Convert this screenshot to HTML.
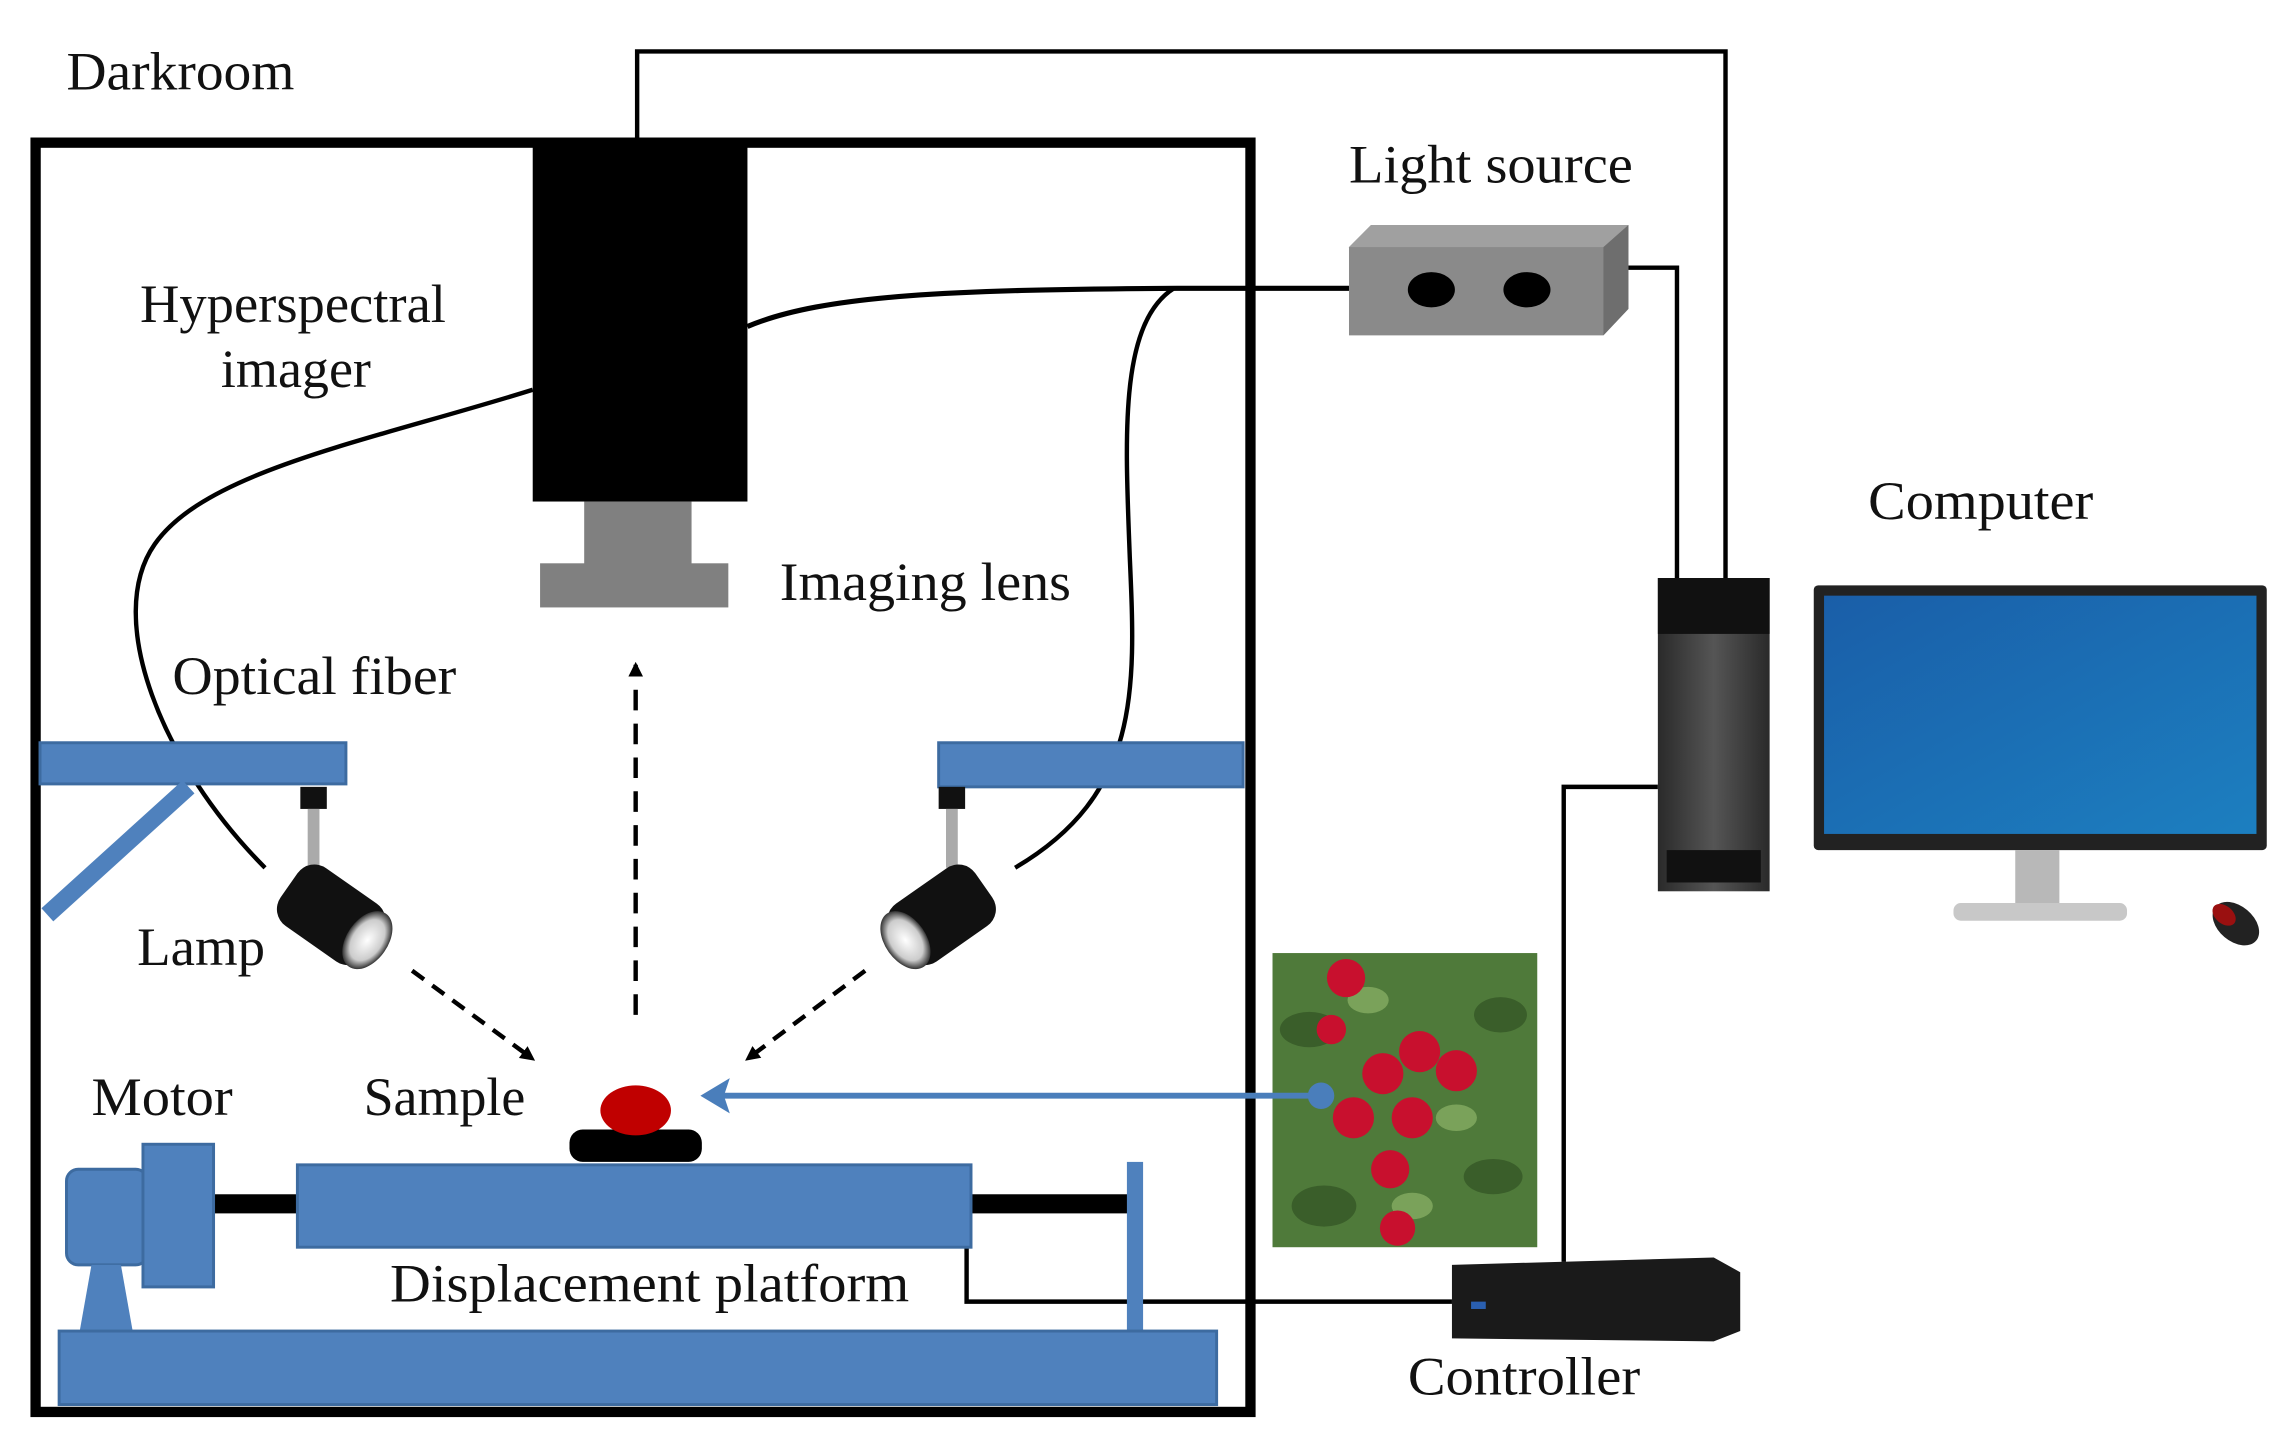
<!DOCTYPE html>
<html><head><meta charset="utf-8"><style>
html,body{margin:0;padding:0;background:#fff;}
svg{display:block;}
text{font-family:"Liberation Serif",serif;font-size:37px;fill:#111;}
</style></head><body>
<svg width="2295" height="1434" viewBox="0 0 1560 975" xmlns="http://www.w3.org/2000/svg">
<defs>
<marker id="ah" markerWidth="10" markerHeight="10" refX="8" refY="5" orient="auto" markerUnits="userSpaceOnUse"><path d="M0,0 L10,5 L0,10 z" fill="#000"/></marker>
<linearGradient id="tow" x1="0" x2="1"><stop offset="0" stop-color="#2a2a2a"/><stop offset="0.5" stop-color="#555"/><stop offset="1" stop-color="#2a2a2a"/></linearGradient>
<linearGradient id="scr" x1="0" y1="0" x2="1" y2="1"><stop offset="0" stop-color="#1a5ea8"/><stop offset="1" stop-color="#1c7fc0"/></linearGradient>
<radialGradient id="lens" cx="0.5" cy="0.5" r="0.5"><stop offset="0" stop-color="#fff"/><stop offset="0.7" stop-color="#ccc"/><stop offset="1" stop-color="#333"/></radialGradient>
</defs>

<polyline points="433,97 433,35 1173,35 1173,393" fill="none" stroke="#000" stroke-width="3"/>
<polyline points="1105,182 1140,182 1140,393" fill="none" stroke="#000" stroke-width="3"/>
<polyline points="1127,535 1063,535 1063,858" fill="none" stroke="#000" stroke-width="3"/>
<polyline points="657,848 657,885 987,885" fill="none" stroke="#000" stroke-width="3"/>

<rect x="24" y="97" width="826" height="863" fill="none" stroke="#000" stroke-width="7"/>

<rect x="362" y="97" width="146" height="244" fill="#000"/>
<rect x="397" y="341" width="73" height="44" fill="#808080"/>
<rect x="367" y="383" width="128" height="30" fill="#808080"/>

<path d="M508,222 C560,200 650,197 800,196 L917,196" fill="none" stroke="#000" stroke-width="3.5"/>
<path d="M362,265 C250,300 140,320 105,370 C70,420 110,520 180,590" fill="none" stroke="#000" stroke-width="3"/>
<path d="M798,196 C760,220 765,300 768,380 C772,470 775,540 690,590" fill="none" stroke="#000" stroke-width="3"/>

<polygon points="917,168 932,153 1107,153 1107,210 1090,228 917,228" fill="#8a8a8a"/>
<polygon points="917,168 932,153 1107,153 1090,168" fill="#a0a0a0"/>
<polygon points="1090,168 1107,153 1107,210 1090,228" fill="#6e6e6e"/>
<ellipse cx="973" cy="197" rx="16" ry="12" fill="#000"/>
<ellipse cx="1038" cy="197" rx="16" ry="12" fill="#000"/>

<rect x="1127" y="393" width="76" height="213" fill="url(#tow)"/>
<rect x="1127" y="393" width="76" height="38" fill="#111"/>
<rect x="1133" y="578" width="64" height="22" fill="#111"/>
<rect x="1233" y="398" width="308" height="180" rx="3" fill="#222"/>
<rect x="1240" y="405" width="294" height="162" fill="url(#scr)"/>
<rect x="1370" y="578" width="30" height="38" fill="#b8b8b8"/>
<rect x="1328" y="614" width="118" height="12" rx="5" fill="#c8c8c8"/>
<ellipse cx="1520" cy="628" rx="12" ry="18" transform="rotate(-50 1520 628)" fill="#222"/>
<ellipse cx="1512" cy="622" rx="6" ry="9" transform="rotate(-50 1512 622)" fill="#9a1010"/>

<rect x="865" y="648" width="180" height="200" fill="#4f7a3a"/>
<g fill="#3a5e2a"><ellipse cx="890" cy="700" rx="20" ry="12"/><ellipse cx="1020" cy="690" rx="18" ry="12"/><ellipse cx="900" cy="820" rx="22" ry="14"/><ellipse cx="1015" cy="800" rx="20" ry="12"/></g>
<g fill="#7aa25a"><ellipse cx="930" cy="680" rx="14" ry="9"/><ellipse cx="990" cy="760" rx="14" ry="9"/><ellipse cx="960" cy="820" rx="14" ry="9"/></g>
<g fill="#c8102e"><circle cx="915" cy="665" r="13"/><circle cx="965" cy="715" r="14"/><circle cx="940" cy="730" r="14"/><circle cx="990" cy="728" r="14"/><circle cx="920" cy="760" r="14"/><circle cx="960" cy="760" r="14"/><circle cx="945" cy="795" r="13"/><circle cx="950" cy="835" r="12"/><circle cx="905" cy="700" r="10"/></g>

<polygon points="987,860 1165,855 1183,865 1183,905 1165,912 987,910" fill="#1a1a1a"/>
<rect x="1000" y="885" width="10" height="5" fill="#2a5fb0"/>

<line x1="898" y1="745" x2="490" y2="745" stroke="#4a7ebb" stroke-width="4"/>
<polygon points="476,745 496,733 492,745 496,757" fill="#4a7ebb"/>
<circle cx="898" cy="745" r="9" fill="#4a7ebb"/>

<rect x="27" y="505" width="208" height="28" fill="#4f81bd" stroke="#3d6ba0" stroke-width="2"/>
<line x1="128" y1="535" x2="32" y2="622" stroke="#4f81bd" stroke-width="12"/>
<rect x="638" y="505" width="207" height="30" fill="#4f81bd" stroke="#3d6ba0" stroke-width="2"/>

<rect x="204" y="535" width="18" height="15" fill="#111"/>
<rect x="209" y="550" width="8" height="40" fill="#aaa"/>
<g transform="rotate(35 225 622)"><rect x="190" y="598" width="70" height="48" rx="14" fill="#111"/><ellipse cx="255" cy="622" rx="14" ry="22" fill="url(#lens)"/></g>
<rect x="638" y="535" width="18" height="15" fill="#111"/>
<rect x="643" y="550" width="8" height="40" fill="#aaa"/>
<g transform="rotate(-35 640 622)"><rect x="605" y="598" width="70" height="48" rx="14" fill="#111"/><ellipse cx="610" cy="622" rx="14" ry="22" fill="url(#lens)"/></g>

<line x1="432" y1="690" x2="432" y2="452" stroke="#000" stroke-width="3" stroke-dasharray="14,9" marker-end="url(#ah)"/>
<line x1="280" y1="660" x2="362" y2="720" stroke="#000" stroke-width="3" stroke-dasharray="10,7" marker-end="url(#ah)"/>
<line x1="588" y1="660" x2="508" y2="720" stroke="#000" stroke-width="3" stroke-dasharray="10,7" marker-end="url(#ah)"/>

<rect x="387" y="768" width="90" height="22" rx="9" fill="#000"/>
<ellipse cx="432" cy="755" rx="24" ry="17" fill="#c00000"/>

<rect x="145" y="812" width="60" height="13" fill="#000"/>
<rect x="658" y="812" width="110" height="13" fill="#000"/>
<rect x="202" y="792" width="458" height="56" fill="#4f81bd" stroke="#3d6ba0" stroke-width="2"/>
<rect x="766" y="790" width="11" height="116" fill="#4f81bd"/>
<rect x="45" y="795" width="55" height="65" rx="8" fill="#4f81bd" stroke="#3d6ba0" stroke-width="2"/>
<rect x="97" y="778" width="48" height="97" fill="#4f81bd" stroke="#3d6ba0" stroke-width="2"/>
<polygon points="62,860 82,860 90,905 54,905" fill="#4f81bd"/>
<rect x="40" y="905" width="787" height="50" fill="#4f81bd" stroke="#3d6ba0" stroke-width="2"/>

<g>
<text x="45" y="61" textLength="155" lengthAdjust="spacingAndGlyphs">Darkroom</text>
<text x="95" y="219" textLength="208" lengthAdjust="spacingAndGlyphs">Hyperspectral</text>
<text x="150" y="263" textLength="102" lengthAdjust="spacingAndGlyphs">imager</text>
<text x="530" y="408" textLength="198" lengthAdjust="spacingAndGlyphs">Imaging  lens</text>
<text x="117" y="472" textLength="193" lengthAdjust="spacingAndGlyphs">Optical fiber</text>
<text x="93" y="656" textLength="87" lengthAdjust="spacingAndGlyphs">Lamp</text>
<text x="62" y="758" textLength="96" lengthAdjust="spacingAndGlyphs">Motor</text>
<text x="247" y="758" textLength="110" lengthAdjust="spacingAndGlyphs">Sample</text>
<text x="265" y="885" textLength="353" lengthAdjust="spacingAndGlyphs">Displacement  platform</text>
<text x="917" y="124" textLength="193" lengthAdjust="spacingAndGlyphs">Light  source</text>
<text x="1270" y="353" textLength="153" lengthAdjust="spacingAndGlyphs">Computer</text>
<text x="957" y="948" textLength="158" lengthAdjust="spacingAndGlyphs">Controller</text>
</g>
</svg>
</body></html>
